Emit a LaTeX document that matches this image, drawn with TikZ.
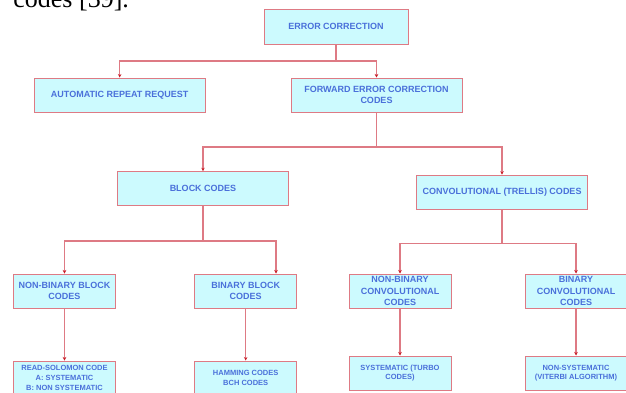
\documentclass[tikz,border=0pt]{standalone}
\usepackage{fontspec}
\setmainfont{Liberation Serif}
\setsansfont{Liberation Sans}
\usetikzlibrary{positioning,arrows.meta}
\definecolor{boxfill}{RGB}{204,250,254}
\definecolor{boxline}{RGB}{222,122,132}
\definecolor{boxtext}{RGB}{74,112,218}
\definecolor{tipred}{RGB}{200,30,40}
\begin{document}
\begin{tikzpicture}[x=1pt, y=-1pt, thick,
    >={Stealth[length=3.5pt,width=3.5pt,color=tipred]},
    main/.style = {draw=boxline, line width=1pt, fill=boxfill, text=boxtext, align=center,
                   inner sep=1pt, minimum height=34pt, font=\sffamily\bfseries\fontsize{9}{11.4}\selectfont},
    wide/.style = {main, minimum width=171pt},
    narrow/.style = {main, minimum width=102pt},
    leaf/.style = {narrow, font=\sffamily\bfseries\fontsize{7.5}{9.6}\selectfont},
    link/.style = {draw=boxline, line width=1.1pt}]
            \clip (0,0) rectangle (626,392);
            \node[anchor=base west, inner sep=0pt, font=\fontsize{26}{30}\selectfont] (cite) at (13,7.5) {codes [39].};

            \node[main, minimum width=144pt, minimum height=35pt] (ec) at (336,26.7) {ERROR CORRECTION};
            \node[wide] (arr)  at (119.7,95)  {AUTOMATIC REPEAT REQUEST};
            \node[wide] (fec)  at (376.5,95)  {FORWARD ERROR CORRECTION\\CODES};
            \node[wide] (blk)  at (203,188.7) {BLOCK CODES};
            \node[wide] (conv) at (502,192.2) {CONVOLUTIONAL (TRELLIS) CODES};

            \node[narrow] (nbb) at (64.5,291)  {NON-BINARY BLOCK\\CODES};
            \node[narrow] (bb)  at (245.7,291) {BINARY BLOCK\\CODES};
            \node[narrow] (nbc) at (400,291)   {NON-BINARY\\CONVOLUTIONAL\\CODES};
            \node[narrow] (bc)  at (576,291)   {BINARY\\CONVOLUTIONAL\\CODES};

            \node[leaf] (rs)   [below=52pt of nbb] {READ-SOLOMON CODE\\A: SYSTEMATIC\\B: NON SYSTEMATIC};
            \node[leaf] (ham)  [below=52pt of bb]  {HAMMING CODES\\BCH CODES};
            \node[leaf] (sys)  [below=47pt of nbc] {SYSTEMATIC (TURBO\\CODES)};
            \node[leaf] (nsys) [below=47pt of bc]  {NON-SYSTEMATIC\\(VITERBI ALGORITHM)};

            \coordinate (j1) at (336,61);
            \coordinate (j2) at (376.5,147);
            \coordinate (j3) at (203,241);
            \coordinate (j4) at (502,243.3);

            \draw[link] (ec) -- (j1);
            \draw[link,->] (j1) -| (arr);
            \draw[link,->] (j1) -| (fec);
            \draw[link] (fec) -- (j2);
            \draw[link,->] (j2) -| (blk);
            \draw[link,->] (j2) -| (conv);
            \draw[link] (blk) -- (j3);
            \draw[link,->] (j3) -| (nbb);
            \draw[link,->] (j3) -| ([xshift=30.3pt]bb.north);
            \draw[link] (conv) -- (j4);
            \draw[link,->] (j4) -| (nbc);
            \draw[link,->] (j4) -| (bc);

            \draw[link,->] (nbb) -- (rs);
            \draw[link,->] (bb) -- (ham);
            \draw[link,->] (nbc) -- (sys);
            \draw[link,->] (bc) -- (nsys);
\end{tikzpicture}
\end{document}
